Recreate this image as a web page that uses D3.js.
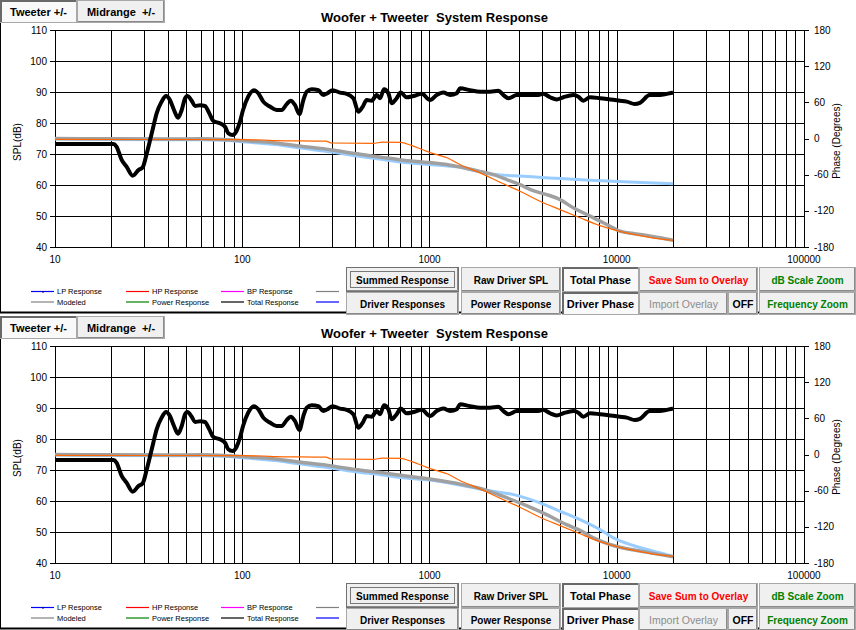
<!DOCTYPE html>
<html>
<head>
<meta charset="utf-8">
<script src="https://cdn.jsdelivr.net/npm/d3@7"></script>
<style>
  body { margin: 0; background: #fff; }
  svg { display: block; font-family: Arial, "Liberation Sans", sans-serif; }
  text { white-space: pre; }
</style>
</head>
<body>
<svg id="chart" width="856" height="630"></svg>
<script>
// ---- data ----
const freqLabels = ['10', '100', '1000', '10000', '100000'];
const splTicks = [40, 50, 60, 70, 80, 90, 100, 110];
const phaseTicks = [-180, -120, -60, 0, 60, 120, 180];

// total SPL response [Hz, dB]
const totalResponse = [
  [10, 73.2], [20.5, 73.2], [21.3, 72.4], [22.7, 68.1], [24.1, 65.9], [26, 63], [27.9, 64.8],
  [29.4, 65.7], [30.9, 70.2], [32.2, 74.5], [33.5, 78.8], [34.9, 83.1], [37.1, 86.9], [39.2, 88.7],
  [41.1, 87.4], [43.2, 84.2], [45.4, 81.7], [47.5, 84.2], [49.5, 88], [50.9, 88.7], [53.7, 87.2],
  [56, 85.5], [59.5, 85.7], [63.2, 85.5], [66.7, 83.1], [70, 80.7], [76, 79.9], [80.9, 78.8],
  [84.2, 76.7], [88.9, 76.1], [93.3, 77.5], [97.2, 80.4], [101, 84.2], [107.6, 88.5], [115.5, 90.6],
  [121.8, 89.6], [129.5, 86.9], [140.6, 85.3], [152.7, 84.2], [162.4, 84.2], [172.7, 86.1],
  [181.4, 87.2], [191.3, 85.8], [201.8, 82.9], [212, 87.4], [221, 90.1], [235, 90.9], [255, 90.6],
  [271, 89], [285, 89.6], [304, 90.6], [333, 89.8], [361, 89.4], [392, 88], [417, 83.6], [440, 85.3],
  [462, 87.4], [491, 87.2], [522, 89], [544, 88], [572, 90.9], [603, 89.6], [628, 86.4], [668, 88],
  [702, 89.8], [755, 88.3], [820, 88.7], [909, 89.4], [1007, 87.4], [1092, 89], [1186, 89.8],
  [1288, 89], [1397, 89.6], [1456, 91.2], [1646, 90.6], [1862, 90.1], [2106, 90.1], [2333, 90.4],
  [2483, 89], [2640, 88], [2924, 89], [3306, 89], [3740, 89], [4056, 89.4], [4404, 88.3],
  [4780, 87.6], [5190, 88.3], [5867, 89], [6238, 88.5], [6630, 87.2], [7200, 88.3], [8140, 88],
  [9210, 87.6], [10400, 87.2], [11300, 86.9], [12500, 86.1], [13300, 86.5], [15000, 89],
  [17000, 89], [18500, 89.4], [20000, 89.8]
];

// phase curves [Hz, degrees]
const tweeterPhase = [
  [10, -1.5], [100, -2], [130, -2.5], [150, -3.5], [280, -4.5], [300, -7.5], [500, -8], [560, -6],
  [700, -6.5], [800, -11.5], [960, -21], [1140, -28.5], [1240, -32], [1460, -43.5], [1860, -57],
  [2380, -72.5], [3040, -87.5], [3890, -104], [4980, -118], [6360, -131.5], [8140, -144.5],
  [10400, -154], [13300, -161], [17000, -166.5], [20000, -169]
];

const totalPhaseTop = [
  [10, 0], [20, -0.5], [40, -1], [60, -0.5], [80, -1.5], [100, -3.5], [150, -7.5], [200, -12.5],
  [300, -19], [400, -25], [550, -31], [700, -35.5], [1000, -40], [1250, -43.5], [1460, -47.3],
  [1860, -54.6], [2190, -60], [2590, -68.3], [3040, -76.6], [3580, -86.5], [4220, -93],
  [4980, -101.4], [5860, -115], [6910, -126], [8140, -137], [9210, -145.5], [10400, -153.8],
  [12250, -157.7], [14440, -161], [17000, -164.8], [20000, -168.7]
];

const wooferPhaseTop = [
  [10, -1], [20, -1.5], [40, -2], [60, -2], [80, -3], [100, -5.5], [150, -10], [200, -15.5],
  [300, -22.5], [400, -28.5], [550, -34.5], [700, -39], [1000, -43], [1250, -45.5], [1450, -47.5],
  [1710, -52.8], [2100, -58.3], [3170, -62.8], [4780, -66.1], [7190, -69.4], [10840, -71.7],
  [20000, -75]
];

const totalPhaseBottom = [
  [10, 0], [20, -0.5], [40, -1], [60, -0.5], [80, -1.5], [100, -3.5], [150, -7.5], [200, -12.5],
  [300, -19], [400, -25], [550, -30], [700, -34.5], [1000, -40.8], [1500, -50], [2020, -59.4],
  [2400, -68], [3040, -80.3], [4220, -99.7], [5400, -116.3], [6360, -125.7], [7500, -138.3],
  [9590, -151], [14440, -162], [20000, -169.7]
];

const wooferPhaseBottom = [
  [10, -1], [20, -1.5], [40, -2], [60, -2], [80, -3], [100, -5.5], [150, -10], [200, -15.5],
  [300, -22.5], [400, -28.5], [550, -33.5], [700, -38], [1000, -42.5], [1500, -51.5], [2020, -59.4],
  [2810, -66.6], [3890, -80.3], [4980, -94.2], [6360, -108], [8140, -124.6], [9590, -138.3],
  [12250, -151], [15700, -160.4], [20000, -168.7]
];

const legendRow1 = ['LP Response', 'HP Response', 'BP Response', ''];
const legendRow2 = ['Modeled', 'Power Response', 'Total Response', ''];
const legendColors1 = ['#0000ff', '#ff0000', '#ff00ff', '#808080'];
const legendColors2 = ['#808080', '#008000', '#000000', '#0000ff'];

const panels = [
  { top: 0, totalPhase: totalPhaseTop, wooferPhase: wooferPhaseTop },
  { top: 316, totalPhase: totalPhaseBottom, wooferPhase: wooferPhaseBottom }
];

// ---- scales (panel-local coordinates) ----
const x = d3.scaleLog().domain([10, 100000]).range([55, 804]);
const ySpl = d3.scaleLinear().domain([40, 110]).range([247, 30]);
const yPhase = d3.scaleLinear().domain([-180, 180]).range([247, 30]);

const svg = d3.select('#chart');

function drawButton(g, bx, by, w, h, label, opt = {}) {
  const b = g.append('g');
  b.append('rect')
    .attr('x', bx + 0.5).attr('y', by + 0.5)
    .attr('width', w - 1).attr('height', h - 1)
    .attr('fill', opt.pressed ? '#f9f9f9' : '#f0f0f0')
    .attr('stroke', opt.focus ? '#707070' : '#a8a8a8')
    .attr('stroke-width', 1);
  if (opt.pressed) {
    // sunken look: dark top/left edge
    b.append('path')
      .attr('d', `M${bx + 1},${by + h - 1}V${by + 1}H${bx + w - 1}`)
      .attr('fill', 'none').attr('stroke', '#696969').attr('stroke-width', 2);
  } else {
    b.append('path')
      .attr('d', `M${bx + 1},${by + h - 1.5}H${bx + w - 1.5}V${by + 1}`)
      .attr('fill', 'none').attr('stroke', '#8a8a8a').attr('stroke-width', 1);
  }
  if (opt.focus) {
    b.append('rect')
      .attr('x', bx + 4.5).attr('y', by + 4.5)
      .attr('width', w - 9).attr('height', h - 9)
      .attr('fill', 'none').attr('stroke', '#000')
      .attr('stroke-dasharray', '1,1');
  }
  b.append('text')
    .attr('x', bx + w / 2).attr('y', by + h / 2 + 4)
    .attr('text-anchor', 'middle')
    .attr('font-size', opt.size || 10)
    .attr('font-weight', opt.weight || 'bold')
    .attr('fill', opt.color || '#000')
    .text(label);
}

function drawPanel(p) {
  const g = svg.append('g').attr('transform', `translate(0,${p.top})`);

  // chart frame (left and bottom edges visible)
  g.append('line').attr('x1', 0.5).attr('x2', 0.5).attr('y1', 0).attr('y2', 313)
    .attr('stroke', '#000');
  g.append('line').attr('x1', 0).attr('x2', 856).attr('y1', 312.5).attr('y2', 312.5)
    .attr('stroke', '#000').attr('stroke-width', 2);

  // title
  g.append('text').attr('x', 321).attr('y', 22)
    .attr('font-size', 13).attr('font-weight', 'bold').text('Woofer + Tweeter');
  g.append('text').attr('x', 436).attr('y', 22)
    .attr('font-size', 13).attr('font-weight', 'bold').text('System Response');

  // vertical log grid
  const vGrid = [];
  [10, 100, 1000, 10000].forEach(d => { for (let k = 1; k <= 9; k++) vGrid.push(d * k); });
  vGrid.push(100000);
  g.append('g').selectAll('line').data(vGrid).join('line')
    .attr('x1', d => Math.round(x(d)) + 0.5).attr('x2', d => Math.round(x(d)) + 0.5)
    .attr('y1', ySpl(110)).attr('y2', ySpl(40))
    .attr('stroke', '#000').attr('stroke-width', 1);

  // horizontal grid + left ticks
  g.append('g').selectAll('line').data(splTicks).join('line')
    .attr('x1', 50).attr('x2', 804)
    .attr('y1', d => Math.round(ySpl(d)) + 0.5).attr('y2', d => Math.round(ySpl(d)) + 0.5)
    .attr('stroke', '#000').attr('stroke-width', 1);

  // right phase axis
  g.append('line').attr('x1', 804.5).attr('x2', 804.5)
    .attr('y1', yPhase(180)).attr('y2', yPhase(-180)).attr('stroke', '#000');
  g.append('g').selectAll('line').data(phaseTicks).join('line')
    .attr('x1', 804).attr('x2', 809)
    .attr('y1', d => Math.round(yPhase(d)) + 0.5).attr('y2', d => Math.round(yPhase(d)) + 0.5)
    .attr('stroke', '#000');

  // tick labels
  g.append('g').selectAll('text').data(splTicks).join('text')
    .attr('x', 47).attr('y', d => ySpl(d) + 3.5)
    .attr('text-anchor', 'end').attr('font-size', 10).text(d => d);
  g.append('g').selectAll('text').data(phaseTicks).join('text')
    .attr('x', 814).attr('y', d => yPhase(d) + 3.5)
    .attr('font-size', 10).text(d => d);
  g.append('g').selectAll('text').data(freqLabels).join('text')
    .attr('x', d => x(+d)).attr('y', 263)
    .attr('text-anchor', 'middle').attr('font-size', 10).text(d => d);

  // axis titles
  g.append('text').attr('transform', `translate(21,142) rotate(-90)`)
    .attr('text-anchor', 'middle').attr('font-size', 10).text('SPL(dB)');
  g.append('text').attr('transform', `translate(840,141) rotate(-90)`)
    .attr('text-anchor', 'middle').attr('font-size', 10).text('Phase (Degrees)');

  // curves
  const phaseLine = d3.line().x(d => x(d[0])).y(d => yPhase(d[1])).curve(d3.curveMonotoneX);
  const splLine = d3.line().x(d => x(d[0])).y(d => ySpl(d[1])).curve(d3.curveMonotoneX);
  const curves = g.append('g').attr('fill', 'none')
    .attr('stroke-linejoin', 'round').attr('stroke-linecap', 'butt');
  curves.append('path').attr('d', phaseLine(p.wooferPhase))
    .attr('stroke', '#99ccff').attr('stroke-width', 3);
  curves.append('path').attr('d', phaseLine(p.totalPhase))
    .attr('stroke', '#a0a0a0').attr('stroke-width', 3.5);
  curves.append('path').attr('d', phaseLine(tweeterPhase))
    .attr('stroke', '#ff6600').attr('stroke-width', 1.2);
  curves.append('path').attr('d', splLine(totalResponse))
    .attr('stroke', '#000').attr('stroke-width', 4);

  // legend
  const legX = [31, 126, 221, 316];
  [[legendRow1, legendColors1, 291.5], [legendRow2, legendColors2, 302]].forEach(([labels, colors, ly]) => {
    labels.forEach((lab, i) => {
      g.append('line').attr('x1', legX[i]).attr('x2', legX[i] + 23)
        .attr('y1', ly).attr('y2', ly).attr('stroke', colors[i]).attr('stroke-width', 1.2);
      if (lab) {
        g.append('text').attr('x', legX[i] + 26).attr('y', ly + 2.6)
          .attr('font-size', 7.5).attr('fill', '#000').text(lab);
      }
    });
  });
  g.append('rect').attr('x', 42).attr('y', 291).attr('width', 2).attr('height', 1.5)
    .attr('fill', '#000080');

  // control buttons
  const r1 = 267, r2 = 292, h1 = 25, h2 = 23;
  drawButton(g, 346, r1, 113, h1, 'Summed Response', { focus: true });
  drawButton(g, 461, r1, 100, h1, 'Raw Driver SPL');
  drawButton(g, 562, r1, 77, h1, 'Total Phase', { pressed: true, size: 11 });
  drawButton(g, 639, r1, 119, h1, 'Save Sum to Overlay', { color: '#ff0000' });
  drawButton(g, 759, r1, 97, h1, 'dB Scale Zoom', { color: '#008000' });
  drawButton(g, 346, r2, 113, h2, 'Driver Responses');
  drawButton(g, 461, r2, 100, h2, 'Power Response');
  drawButton(g, 562, r2, 77, h2, 'Driver Phase', { pressed: true, size: 11 });
  drawButton(g, 639, r2, 89, h2, 'Import Overlay', { color: '#8c8c8c', weight: 'normal', size: 10.5 });
  drawButton(g, 728, r2, 30, h2, 'OFF', { size: 10.5 });
  drawButton(g, 759, r2, 97, h2, 'Frequency Zoom', { color: '#008000' });

  // tabs
  drawButton(g, 0, 0, 77, 23, 'Tweeter +/-', { pressed: true, size: 11 });
  drawButton(g, 77, 0, 88, 23, 'Midrange  +/-', { size: 11 });
}

panels.forEach(drawPanel);
</script>
</body>
</html>
